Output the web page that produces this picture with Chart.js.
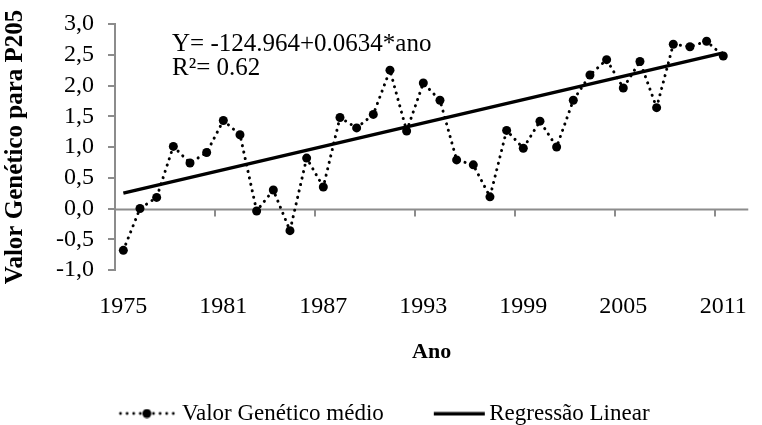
<!DOCTYPE html>
<html>
<head>
<meta charset="utf-8">
<script src="https://cdn.jsdelivr.net/npm/chart.js@4/dist/chart.umd.min.js"></script>
<style>
  html, body { margin: 0; padding: 0; background: #fff; }
</style>
</head>
<body>
<canvas id="grafico" width="762" height="425"></canvas>
<script>
// anos (categorias); 2012 fica vazio, o eixo continua até a borda
const anos = [1975,1976,1977,1978,1979,1980,1981,1982,1983,1984,1985,1986,1987,1988,1989,1990,
  1991,1992,1993,1994,1995,1996,1997,1998,1999,2000,2001,2002,2003,2004,2005,2006,2007,2008,2009,2010,2011,2012];

// valor genético médio
const valorGenetico = [-0.68,0.00,0.18,1.01,0.74,0.91,1.43,1.20,-0.04,0.30,-0.36,0.82,0.35,1.48,1.31,1.53,
  2.25,1.26,2.04,1.76,0.79,0.71,0.19,1.27,0.98,1.42,1.00,1.76,2.17,2.42,1.96,2.39,1.64,2.67,2.63,2.72,2.48,null];

// regressão linear: extremos 1975 e 2011
const regressao = [0.25,null,null,null,null,null,null,null,null,null,null,null,null,null,null,null,
  null,null,null,null,null,null,null,null,null,null,null,null,null,null,null,null,null,null,null,null,2.53,null];

const yMin = -1, yMax = 3, yPasso = 0.5;
const passoRotulo = 6;

const equacaoTexto = ['Y= -124.964+0.0634*ano', 'R²= 0.62'];

const CINZA = '#8c8c8c';
const FONTE = '"Liberation Serif", "Times New Roman", serif';
Chart.defaults.font.family = FONTE;
Chart.defaults.color = '#000';

function iconePontilhado() {
  const c = document.createElement('canvas');
  c.width = 70; c.height = 10;
  const g = c.getContext('2d');
  g.fillStyle = '#000';
  for (let x = 14; x < 70; x += 6.6) {
    g.beginPath(); g.arc(x, 5, 1.4, 0, Math.PI * 2); g.fill();
  }
  g.beginPath(); g.arc(40.4, 5, 4.5, 0, Math.PI * 2); g.fill();
  return c;
}

function iconeSolido() {
  const c = document.createElement('canvas');
  c.width = 80; c.height = 10;
  const g = c.getContext('2d');
  g.fillStyle = '#000';
  g.fillRect(25, 3.5, 51, 3.5);
  return c;
}

const icones = [iconePontilhado(), iconeSolido()];

// linha do zero com as marcas a cada 6 categorias
const eixoZero = {
  id: 'eixoZero',
  beforeDatasetsDraw(chart) {
    const {ctx, chartArea, scales: {x, y}} = chart;
    const y0 = Math.round(y.getPixelForValue(0)) + 0.5;
    const meio = (x.getPixelForValue(1) - x.getPixelForValue(0)) / 2;
    ctx.save();
    ctx.strokeStyle = CINZA;
    ctx.lineWidth = 2;
    ctx.beginPath();
    ctx.moveTo(chartArea.left, y0);
    ctx.lineTo(chartArea.right, y0);
    for (let i = passoRotulo; i < anos.length; i += passoRotulo) {
      const px = Math.round(x.getPixelForValue(i) - meio);
      ctx.moveTo(px, y0);
      ctx.lineTo(px, y0 + 7);
    }
    ctx.stroke();
    ctx.restore();
  }
};

const equacao = {
  id: 'equacao',
  afterDraw(chart) {
    const c = chart.ctx;
    c.save();
    c.font = '25px ' + FONTE;
    c.fillStyle = '#000';
    c.textBaseline = 'alphabetic';
    c.fillText(equacaoTexto[0], 172, 51);
    c.fillText(equacaoTexto[1], 172, 75);
    c.restore();
  }
};

new Chart(document.getElementById('grafico'), {
  type: 'line',
  data: {
    labels: anos,
    datasets: [
      {
        label: 'Valor Genético médio',
        data: valorGenetico,
        borderColor: '#000',
        borderWidth: 3,
        borderDash: [0.1, 6.5],
        borderCapStyle: 'round',
        pointRadius: 4.5,
        pointBackgroundColor: '#000',
        pointBorderWidth: 0,
        tension: 0
      },
      {
        label: 'Regressão Linear',
        data: regressao,
        borderColor: '#000',
        borderWidth: 3.5,
        pointRadius: 0,
        spanGaps: true,
        tension: 0
      }
    ]
  },
  options: {
    responsive: false,
    animation: false,
    layout: { padding: { top: 24, right: 0, bottom: -10, left: 0 } },
    plugins: {
      tooltip: { enabled: false },
      legend: {
        position: 'bottom',
        labels: {
          usePointStyle: true,
          pointStyleWidth: 58,
          padding: 36,
          font: { size: 23 },
          color: '#000',
          generateLabels: (chart) => chart.data.datasets.map((ds, i) => ({
            text: ds.label,
            pointStyle: icones[i],
            fontColor: '#000',
            fillStyle: 'transparent',
            strokeStyle: 'transparent',
            lineWidth: 0,
            hidden: false,
            datasetIndex: i
          }))
        }
      }
    },
    scales: {
      x: {
        type: 'category',
        position: 'bottom',
        offset: true,
        grid: { display: false, drawTicks: false, offset: true },
        border: { display: false },
        ticks: {
          autoSkip: false,
          maxRotation: 0,
          minRotation: 0,
          padding: 22,
          font: { size: 24 },
          color: '#000',
          callback: (v, i) => (i % passoRotulo === 0 && valorGenetico[i] !== null) ? String(anos[i]) : ''
        },
        title: {
          display: true,
          text: 'Ano',
          font: { size: 22, weight: 'bold' },
          color: '#000',
          padding: { top: 10, bottom: 0 }
        },
        afterFit: (s) => { s.height = 96; }
      },
      y: {
        min: yMin,
        max: yMax,
        ticks: {
          stepSize: yPasso,
          autoSkip: false,
          padding: 14,
          font: { size: 24 },
          color: '#000',
          callback: (v) => Number(v).toFixed(1).replace('.', ',')
        },
        grid: { drawOnChartArea: false, color: CINZA, tickLength: 7, lineWidth: 2 },
        border: { color: CINZA, width: 2 },
        title: {
          display: true,
          text: 'Valor Genético para P205',
          font: { size: 25, weight: 'bold' },
          color: '#000',
          padding: { top: 1, bottom: 0 }
        },
        afterFit: (s) => { s.width = 115; s.paddingTop = 10; s.paddingBottom = 10; }
      }
    }
  },
  plugins: [eixoZero, equacao]
});
</script>
</body>
</html>
